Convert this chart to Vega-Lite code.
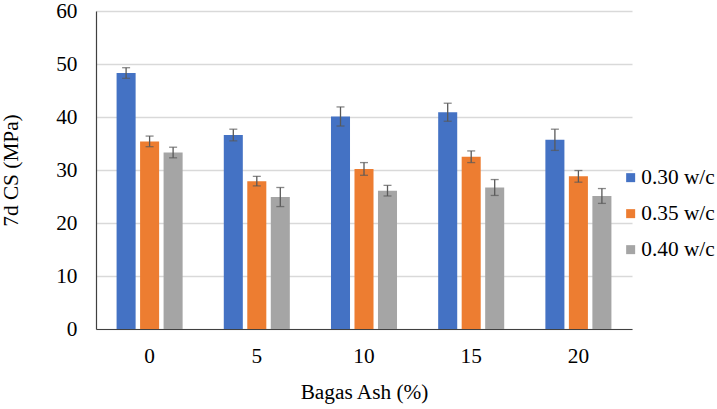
{
  "$schema": "https://vega.github.io/schema/vega-lite/v6.json",
  "width": 536,
  "height": 318,
  "autosize": {"type": "none"},
  "padding": {"left": 96, "top": 11, "right": 85, "bottom": 80},
  "background": "white",
  "config": {
    "font": "Times New Roman",
    "view": {"stroke": null},
    "axis": {
      "labelFont": "Times New Roman",
      "titleFont": "Times New Roman",
      "labelFontSize": 21.3,
      "titleFontSize": 21.3,
      "titleFontWeight": "normal",
      "labelColor": "#000000",
      "titleColor": "#000000",
      "ticks": false,
      "tickSize": 0,
      "domainColor": "#404040",
      "domainWidth": 1.2
    },
    "axisY": {
      "title": "7d CS (MPa)",
      "values": [0, 10, 20, 30, 40, 50, 60],
      "grid": true,
      "gridColor": "#d9d9d9",
      "gridWidth": 1.3,
      "labelPadding": 19,
      "titlePadding": 34
    },
    "legend": {
      "labelFont": "Times New Roman",
      "labelFontSize": 21.3,
      "labelColor": "#000000"
    }
  },
  "data": {
    "values": [
      {"ash": 0, "wc": "0.30 w/c", "cs": 48.3, "lo": 47.3, "hi": 49.3},
      {"ash": 0, "wc": "0.35 w/c", "cs": 35.4, "lo": 34.4, "hi": 36.4},
      {"ash": 0, "wc": "0.40 w/c", "cs": 33.3, "lo": 32.3, "hi": 34.3},
      {"ash": 5, "wc": "0.30 w/c", "cs": 36.6, "lo": 35.5, "hi": 37.7},
      {"ash": 5, "wc": "0.35 w/c", "cs": 27.9, "lo": 27.0, "hi": 28.8},
      {"ash": 5, "wc": "0.40 w/c", "cs": 24.9, "lo": 23.1, "hi": 26.7},
      {"ash": 10, "wc": "0.30 w/c", "cs": 40.1, "lo": 38.3, "hi": 41.9},
      {"ash": 10, "wc": "0.35 w/c", "cs": 30.2, "lo": 29.0, "hi": 31.4},
      {"ash": 10, "wc": "0.40 w/c", "cs": 26.1, "lo": 25.1, "hi": 27.1},
      {"ash": 15, "wc": "0.30 w/c", "cs": 40.9, "lo": 39.2, "hi": 42.6},
      {"ash": 15, "wc": "0.35 w/c", "cs": 32.5, "lo": 31.4, "hi": 33.6},
      {"ash": 15, "wc": "0.40 w/c", "cs": 26.7, "lo": 25.2, "hi": 28.2},
      {"ash": 20, "wc": "0.30 w/c", "cs": 35.7, "lo": 33.7, "hi": 37.7},
      {"ash": 20, "wc": "0.35 w/c", "cs": 28.8, "lo": 27.7, "hi": 29.9},
      {"ash": 20, "wc": "0.40 w/c", "cs": 25.1, "lo": 23.7, "hi": 26.5}
    ]
  },
  "encoding": {
    "x": {
      "field": "ash",
      "type": "ordinal",
      "sort": [0, 5, 10, 15, 20],
      "scale": {"paddingInner": 0.384, "paddingOuter": 0.192},
      "axis": {
        "title": "Bagas Ash (%)",
        "labelAngle": 0,
        "labelPadding": 16,
        "titlePadding": 15
      }
    },
    "xOffset": {
      "field": "wc",
      "type": "nominal",
      "sort": ["0.30 w/c", "0.35 w/c", "0.40 w/c"],
      "scale": {"paddingInner": 0.19, "paddingOuter": 0}
    }
  },
  "layer": [
    {
      "mark": {"type": "bar"},
      "encoding": {
        "y": {
          "field": "cs",
          "type": "quantitative",
          "title": "7d CS (MPa)",
          "scale": {"domain": [0, 60], "nice": false}
        },
        "color": {
          "field": "wc",
          "type": "nominal",
          "scale": {
            "domain": ["0.30 w/c", "0.35 w/c", "0.40 w/c"],
            "range": ["#4472c4", "#ed7d31", "#a5a5a5"]
          },
          "legend": {
            "title": null,
            "orient": "none",
            "legendX": 524,
            "legendY": 156,
            "symbolType": "square",
            "symbolSize": 81,
            "symbolStrokeWidth": 0,
            "labelOffset": 0,
            "rowPadding": 14,
            "padding": 0
          }
        }
      }
    },
    {
      "mark": {"type": "rule", "color": "#595959", "strokeWidth": 1.3},
      "encoding": {
        "y": {"field": "lo", "type": "quantitative", "title": "7d CS (MPa)"},
        "y2": {"field": "hi"}
      }
    },
    {
      "mark": {"type": "tick", "color": "#595959", "thickness": 1.3, "size": 8},
      "encoding": {
        "y": {"field": "lo", "type": "quantitative", "title": "7d CS (MPa)"}
      }
    },
    {
      "mark": {"type": "tick", "color": "#595959", "thickness": 1.3, "size": 8},
      "encoding": {
        "y": {"field": "hi", "type": "quantitative", "title": "7d CS (MPa)"}
      }
    }
  ]
}
